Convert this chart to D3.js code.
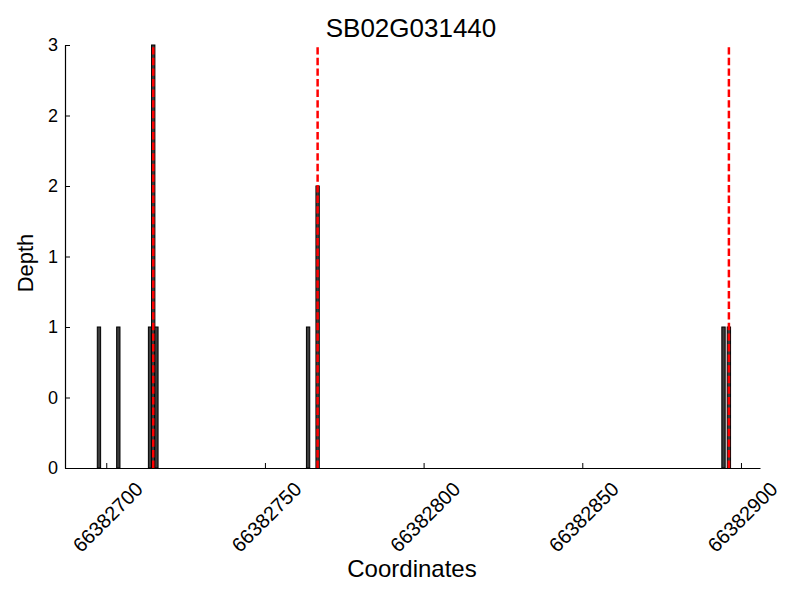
<!DOCTYPE html>
<html>
<head>
<meta charset="utf-8">
<script src="https://cdn.jsdelivr.net/npm/d3@7"></script>
<style>
  body { margin: 0; background: #fff; }
  svg { font-family: 'Liberation Sans', Arial, sans-serif; }
</style>
</head>
<body>
<script>
const title = 'SB02G031440';
const positions = [66382697.7, 66382703.8, 66382713.8, 66382714.8, 66382715.8, 66382763.6, 66382766.6, 66382894.5, 66382896.2];
const depths = [1, 1, 1, 3, 1, 1, 2, 1, 1];
const markers = [66382714.8, 66382766.6, 66382896.2];
const xTicks = [66382700, 66382750, 66382800, 66382850, 66382900];
const yTicks = [0, 0.5, 1, 1.5, 2, 2.5, 3];
const binWidth = 1.05;

const width = 800;
const height = 600;
const margin = { top: 45, right: 40, bottom: 132, left: 65 };

const svg = d3.select('body').append('svg')
  .attr('width', width)
  .attr('height', height);

const x = d3.scaleLinear()
  .domain([66382687, 66382906])
  .range([margin.left, width - margin.right]);

const y = d3.scaleLinear()
  .domain([0, 3])
  .range([height - margin.bottom, margin.top]);

// bars
svg.append('g')
  .selectAll('rect')
  .data(positions.map((p, i) => ({ p, d: depths[i] })))
  .join('rect')
  .attr('x', (d) => x(d.p - binWidth / 2))
  .attr('width', (d) => x(d.p + binWidth / 2) - x(d.p - binWidth / 2))
  .attr('y', (d) => y(d.d))
  .attr('height', (d) => y(0) - y(d.d))
  .attr('fill', '#3c3c3c')
  .attr('stroke', '#000')
  .attr('stroke-width', 1);

// marker lines
svg.append('g')
  .selectAll('line')
  .data(markers)
  .join('line')
  .attr('x1', (d) => x(d))
  .attr('x2', (d) => x(d))
  .attr('y1', y(0))
  .attr('y2', y(3))
  .attr('stroke', 'red')
  .attr('stroke-width', 2.5)
  .attr('stroke-dasharray', '7.4,3.2');

// x axis
const xAxis = svg.append('g')
  .attr('transform', `translate(0,${y(0)})`)
  .call(d3.axisBottom(x).tickValues(xTicks).tickSizeInner(-5).tickSizeOuter(0).tickFormat(d3.format('d')));
xAxis.select('.domain').attr('stroke', '#000').attr('stroke-width', 1.2);
xAxis.selectAll('.tick line').attr('stroke', '#000');
xAxis.selectAll('.tick text')
  .attr('font-size', 20)
  .attr('fill', '#000')
  .attr('text-anchor', 'middle')
  .attr('y', 0)
  .attr('dy', '0.35em')
  .attr('transform', 'translate(1,49) rotate(-45)');

// y axis
const yAxis = svg.append('g')
  .attr('transform', `translate(${margin.left},0)`)
  .call(d3.axisLeft(y).tickValues(yTicks).tickSizeInner(-5).tickSizeOuter(0).tickPadding(7).tickFormat((d) => Math.floor(d)));
yAxis.select('.domain').attr('stroke', '#000').attr('stroke-width', 1.2);
yAxis.selectAll('.tick line').attr('stroke', '#000');
yAxis.selectAll('.tick text').attr('font-size', 18).attr('fill', '#000');

// labels
svg.append('text')
  .attr('x', 411)
  .attr('y', 37)
  .attr('text-anchor', 'middle')
  .attr('font-size', 26)
  .text(title);

svg.append('text')
  .attr('x', 412)
  .attr('y', 577)
  .attr('text-anchor', 'middle')
  .attr('font-size', 24)
  .text('Coordinates');

svg.append('text')
  .attr('transform', 'translate(33,263) rotate(-90)')
  .attr('text-anchor', 'middle')
  .attr('font-size', 22)
  .text('Depth');
</script>
</body>
</html>
